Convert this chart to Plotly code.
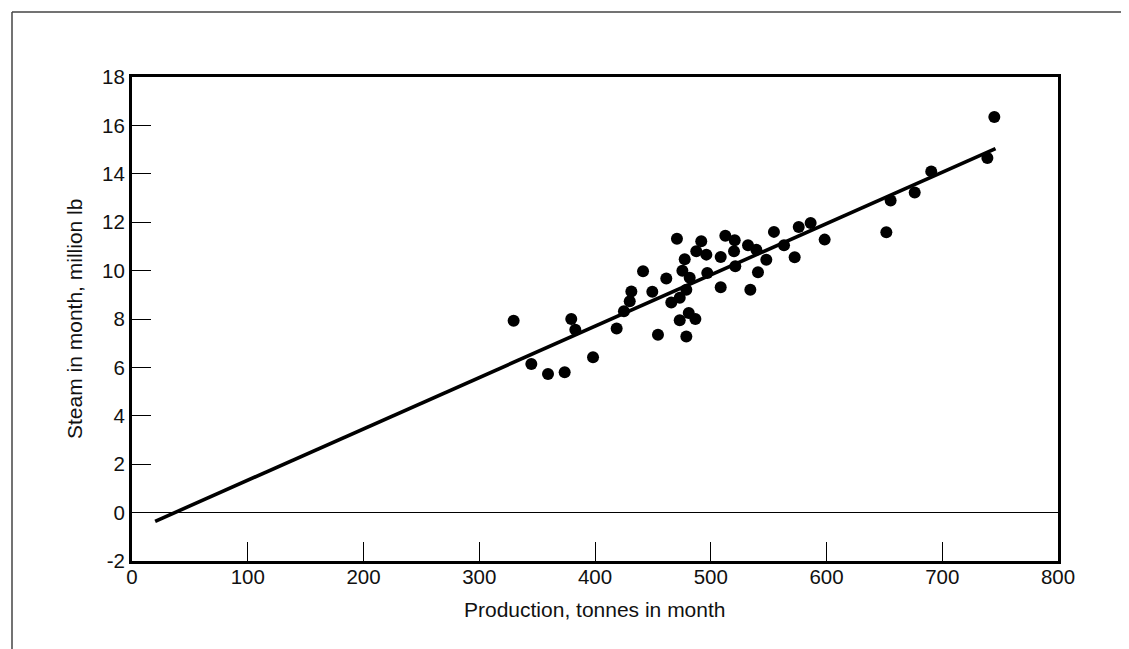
import plotly.graph_objects as go

# Scatter data (production tonnes, steam million lb)
production = [329.7, 345, 359.4, 373.8, 379.5, 383, 398.3, 418.7, 425, 430,
              431.4, 441.5, 449.5, 454.4, 461.6, 465.9, 470.8, 473.2, 473.2, 475.5,
              477.5, 478.9, 478.9, 481.8, 481, 486.7, 487.5, 491.8, 496.2, 497,
              508.6, 508.6, 512.6, 520.7, 520.1, 521.2, 532.2, 534.2, 539.4, 540.8,
              548, 554.6, 563.3, 572.5, 576, 586.3, 598.4, 651.7, 655.4, 676.2,
              690.5, 739, 745]
steam = [7.93, 6.14, 5.73, 5.80, 8.0, 7.56, 6.42, 7.61, 8.32, 8.73,
         9.14, 9.97, 9.13, 7.35, 9.67, 8.68, 11.32, 7.95, 8.88, 9.99,
         10.47, 7.28, 9.21, 9.7, 8.25, 8.0, 10.8, 11.21, 10.66, 9.9,
         10.56, 9.31, 11.44, 11.25, 10.8, 10.18, 11.05, 9.21, 10.86, 9.93,
         10.45, 11.6, 11.05, 10.55, 11.8, 11.97, 11.28, 11.58, 12.9, 13.23,
         14.1, 14.65, 16.35]

# Fitted line endpoints
fit_x = [20, 746]
fit_y = [-0.36, 15.04]

x_ticks = [0, 100, 200, 300, 400, 500, 600, 700, 800]
y_ticks = [-2, 0, 2, 4, 6, 8, 10, 12, 14, 16, 18]

x_title = "Production, tonnes in month"
y_title = "Steam in month, million lb"

W, H = 1129, 649
L, R, T, B = 124, 79, 69, 96
pw, ph = W - L - R, H - T - B

FONT = dict(family="Liberation Sans, Arial, Helvetica, sans-serif", size=20.5, color="#111111")

fig = go.Figure()
fig.add_trace(go.Scatter(x=fit_x, y=fit_y, mode="lines",
                         line=dict(color="black", width=3.6), showlegend=False))
fig.add_trace(go.Scatter(x=production, y=steam, mode="markers",
                         marker=dict(color="black", size=12, line=dict(width=0)),
                         showlegend=False))

axis_common = dict(showgrid=False, showline=True, linecolor="black", linewidth=3,
                   mirror=True, ticks="inside", ticklen=19, tickwidth=1,
                   tickcolor="black", tickfont=FONT)

fig.update_xaxes(range=[0, 800], tickvals=x_ticks, ticktext=[str(v) for v in x_ticks],
                 zeroline=False, **axis_common)
fig.update_yaxes(range=[-2, 18], tickvals=y_ticks, ticktext=[str(v) for v in y_ticks],
                 zeroline=True, zerolinecolor="black", zerolinewidth=1, **axis_common)
try:
    fig.update_xaxes(ticklabelstandoff=-5)
except Exception:
    pass

# Axis titles
fig.add_annotation(text=x_title, xref="paper", yref="paper", x=0.5, y=0,
                   xanchor="center", yanchor="middle", yshift=-48, showarrow=False,
                   font=dict(family=FONT["family"], size=21, color="#111111"))
fig.add_annotation(text=y_title, xref="paper", yref="paper", x=0, y=0.5,
                   xanchor="center", yanchor="middle", xshift=-58, textangle=-90,
                   showarrow=False, font=dict(family=FONT["family"], size=21, color="#111111"))

# Outer page border (top and left)
px0 = (4 - L) / pw
py_top = (H - B - 4) / ph
fig.add_shape(type="line", xref="paper", yref="paper", x0=px0, x1=(W - L) / pw + 0.01,
              y0=py_top, y1=py_top, line=dict(color="#444444", width=1.5))
fig.add_shape(type="line", xref="paper", yref="paper", x0=px0, x1=px0,
              y0=py_top, y1=-(B + 2) / ph, line=dict(color="#444444", width=1.5))

fig.update_layout(width=W, height=H, margin=dict(l=L, r=R, t=T, b=B, autoexpand=False),
                  paper_bgcolor="white", plot_bgcolor="white", showlegend=False)

fig.write_html("out.html")
